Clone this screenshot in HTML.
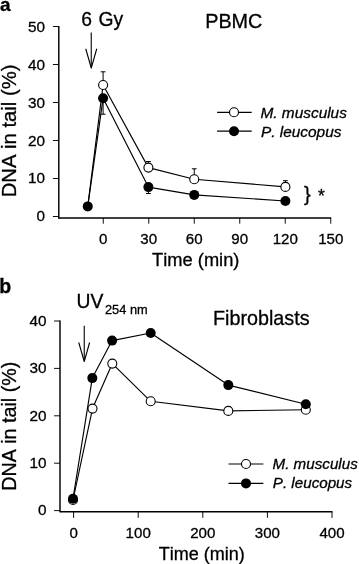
<!DOCTYPE html>
<html lang="en"><head><meta charset="utf-8"><title>DNA in tail</title>
<style>html,body{margin:0;padding:0;background:#fff;}body{width:359px;height:564px;overflow:hidden;}svg{display:block;}text{font-family:"Liberation Sans",Arial,sans-serif;fill:#000;stroke:#000;stroke-width:0.3px;font-kerning:none;}</style>
</head><body>
<svg width="359" height="564" viewBox="0 0 359 564">
<rect width="359" height="564" fill="#fff"/>
<g id="chartA">
<text x="0" y="11.4" font-size="19" text-anchor="start" font-weight="bold">a</text>
<line x1="58.8" y1="26" x2="58.8" y2="218.65" stroke="#000" stroke-width="1.45"/>
<line x1="58.8" y1="218" x2="331.2" y2="218" stroke="#000" stroke-width="1.45"/>
<line x1="52.9" y1="216.5" x2="58.8" y2="216.5" stroke="#000" stroke-width="0.95"/>
<text x="45.1" y="221.3" font-size="15.3" text-anchor="end" >0</text>
<line x1="52.9" y1="178.5" x2="58.8" y2="178.5" stroke="#000" stroke-width="0.95"/>
<text x="45.1" y="183.45" font-size="15.3" text-anchor="end" >10</text>
<line x1="52.9" y1="140.5" x2="58.8" y2="140.5" stroke="#000" stroke-width="0.95"/>
<text x="45.1" y="145.6" font-size="15.3" text-anchor="end" >20</text>
<line x1="52.9" y1="102.5" x2="58.8" y2="102.5" stroke="#000" stroke-width="0.95"/>
<text x="45.1" y="107.75" font-size="15.3" text-anchor="end" >30</text>
<line x1="52.9" y1="64.5" x2="58.8" y2="64.5" stroke="#000" stroke-width="0.95"/>
<text x="45.1" y="69.9" font-size="15.3" text-anchor="end" >40</text>
<line x1="52.9" y1="26.5" x2="58.8" y2="26.5" stroke="#000" stroke-width="0.95"/>
<text x="45.1" y="32.05" font-size="15.3" text-anchor="end" >50</text>
<line x1="103.25" y1="218" x2="103.25" y2="223.7" stroke="#000" stroke-width="0.95"/>
<text x="103.25" y="244.4" font-size="15.1" text-anchor="middle" >0</text>
<line x1="148.75" y1="218" x2="148.75" y2="223.7" stroke="#000" stroke-width="0.95"/>
<text x="148.75" y="244.4" font-size="15.1" text-anchor="middle" >30</text>
<line x1="194.25" y1="218" x2="194.25" y2="223.7" stroke="#000" stroke-width="0.95"/>
<text x="194.25" y="244.4" font-size="15.1" text-anchor="middle" >60</text>
<line x1="239.75" y1="218" x2="239.75" y2="223.7" stroke="#000" stroke-width="0.95"/>
<text x="239.75" y="244.4" font-size="15.1" text-anchor="middle" >90</text>
<line x1="285.25" y1="218" x2="285.25" y2="223.7" stroke="#000" stroke-width="0.95"/>
<text x="285.25" y="244.4" font-size="15.1" text-anchor="middle" >120</text>
<line x1="330.75" y1="218" x2="330.75" y2="223.7" stroke="#000" stroke-width="0.95"/>
<text x="330.75" y="244.4" font-size="15.1" text-anchor="middle" >150</text>
<text x="152.1" y="265.8" font-size="18.3" text-anchor="start" >Time (min)</text>
<text transform="translate(16,197.3) rotate(-90)" font-size="20.25">DNA in tail (%)</text>
<text x="81.3" y="25.8" font-size="19.3" text-anchor="start" >6 <tspan dx="1.2">Gy</tspan></text>
<text x="205.2" y="28" font-size="19.8" text-anchor="start" >PBMC</text>
<line x1="91.25" y1="32.5" x2="91.25" y2="67.5" stroke="#000" stroke-width="1.1"/>
<polyline points="85.75,48.75 91.25,68 96.75,48.75" fill="none" stroke="#000" stroke-width="1.1" stroke-linejoin="round"/>
<line x1="103.1" y1="85" x2="103.1" y2="71.8" stroke="#000" stroke-width="1.0"/>
<line x1="100.7" y1="71.8" x2="105.5" y2="71.8" stroke="#000" stroke-width="1.0"/>
<line x1="103.1" y1="98" x2="103.1" y2="114.2" stroke="#000" stroke-width="1.0"/>
<line x1="100.7" y1="114.2" x2="105.5" y2="114.2" stroke="#000" stroke-width="1.0"/>
<line x1="148.4" y1="167.6" x2="148.4" y2="161.5" stroke="#000" stroke-width="1.0"/>
<line x1="146" y1="161.5" x2="150.8" y2="161.5" stroke="#000" stroke-width="1.0"/>
<line x1="148.4" y1="187.1" x2="148.4" y2="193.5" stroke="#000" stroke-width="1.0"/>
<line x1="146" y1="193.5" x2="150.8" y2="193.5" stroke="#000" stroke-width="1.0"/>
<line x1="194.25" y1="179.3" x2="194.25" y2="168.8" stroke="#000" stroke-width="1.0"/>
<line x1="191.85" y1="168.8" x2="196.65" y2="168.8" stroke="#000" stroke-width="1.0"/>
<line x1="285.4" y1="186.9" x2="285.4" y2="180.7" stroke="#000" stroke-width="1.0"/>
<line x1="283" y1="180.7" x2="287.8" y2="180.7" stroke="#000" stroke-width="1.0"/>
<polyline points="87.75,206.4 103.1,85 148.4,167.6 194.25,179.3 285.4,186.9" fill="none" stroke="#000" stroke-width="1.15" stroke-linejoin="round"/>
<polyline points="87.75,206.4 103.1,98.2 148.4,187.1 194.25,194.9 285.4,201" fill="none" stroke="#000" stroke-width="1.15" stroke-linejoin="round"/>
<circle cx="103.1" cy="85" r="4.5" fill="#fff" stroke="#000" stroke-width="1.1"/>
<circle cx="148.4" cy="167.6" r="4.5" fill="#fff" stroke="#000" stroke-width="1.1"/>
<circle cx="194.25" cy="179.3" r="4.5" fill="#fff" stroke="#000" stroke-width="1.1"/>
<circle cx="285.4" cy="186.9" r="4.5" fill="#fff" stroke="#000" stroke-width="1.1"/>
<circle cx="87.75" cy="206.4" r="5" fill="#000"/>
<circle cx="103.1" cy="98.2" r="5" fill="#000"/>
<circle cx="148.4" cy="187.1" r="5" fill="#000"/>
<circle cx="194.25" cy="194.9" r="5" fill="#000"/>
<circle cx="285.4" cy="201" r="5" fill="#000"/>
<line x1="217.1" y1="112.3" x2="251.7" y2="112.3" stroke="#000" stroke-width="1.2"/>
<circle cx="234" cy="112.3" r="4.5" fill="#fff" stroke="#000" stroke-width="1.1"/>
<line x1="217.1" y1="131.2" x2="251.7" y2="131.2" stroke="#000" stroke-width="1.2"/>
<circle cx="234" cy="131.2" r="5" fill="#000"/>
<text x="260.5" y="117.5" font-size="15.4" text-anchor="start" font-style="italic">M. musculus</text>
<text x="261" y="136.5" font-size="15.4" text-anchor="start" font-style="italic">P. leucopus</text>
<text x="303.9" y="200.5" font-size="20" text-anchor="start" >}</text>
<text x="317.9" y="202.4" font-size="17.5" text-anchor="start" >*</text>
</g>
<g id="chartB">
<text x="-0.8" y="292.5" font-size="19.5" text-anchor="start" font-weight="bold">b</text>
<line x1="60" y1="320.5" x2="60" y2="512.35" stroke="#000" stroke-width="1.45"/>
<line x1="60" y1="511.7" x2="332.45" y2="511.7" stroke="#000" stroke-width="1.45"/>
<line x1="54.1" y1="510.6" x2="60" y2="510.6" stroke="#000" stroke-width="0.95"/>
<text x="46.4" y="515.4" font-size="15.3" text-anchor="end" >0</text>
<line x1="54.1" y1="463.2" x2="60" y2="463.2" stroke="#000" stroke-width="0.95"/>
<text x="46.4" y="468" font-size="15.3" text-anchor="end" >10</text>
<line x1="54.1" y1="415.8" x2="60" y2="415.8" stroke="#000" stroke-width="0.95"/>
<text x="46.4" y="420.6" font-size="15.3" text-anchor="end" >20</text>
<line x1="54.1" y1="368.4" x2="60" y2="368.4" stroke="#000" stroke-width="0.95"/>
<text x="46.4" y="373.2" font-size="15.3" text-anchor="end" >30</text>
<line x1="54.1" y1="321" x2="60" y2="321" stroke="#000" stroke-width="0.95"/>
<text x="46.4" y="325.8" font-size="15.3" text-anchor="end" >40</text>
<line x1="73.6" y1="511.7" x2="73.6" y2="517.9" stroke="#000" stroke-width="0.95"/>
<text x="73.6" y="538.3" font-size="15.1" text-anchor="middle" >0</text>
<line x1="138.2" y1="511.7" x2="138.2" y2="517.9" stroke="#000" stroke-width="0.95"/>
<text x="138.2" y="538.3" font-size="15.1" text-anchor="middle" >100</text>
<line x1="202.8" y1="511.7" x2="202.8" y2="517.9" stroke="#000" stroke-width="0.95"/>
<text x="202.8" y="538.3" font-size="15.1" text-anchor="middle" >200</text>
<line x1="267.4" y1="511.7" x2="267.4" y2="517.9" stroke="#000" stroke-width="0.95"/>
<text x="267.4" y="538.3" font-size="15.1" text-anchor="middle" >300</text>
<line x1="332" y1="511.7" x2="332" y2="517.9" stroke="#000" stroke-width="0.95"/>
<text x="332" y="538.3" font-size="15.1" text-anchor="middle" >400</text>
<text x="158.7" y="559.7" font-size="18.0" text-anchor="start" >Time (min)</text>
<text transform="translate(16.3,490.8) rotate(-90)" font-size="19.7">DNA in tail (%)</text>
<text x="76.5" y="308.1" font-size="19.3">UV<tspan font-size="12.8" dy="6.1" dx="1.7">254 nm</tspan></text>
<text x="213" y="325" font-size="19.75" text-anchor="start" >Fibroblasts</text>
<line x1="84.25" y1="325.75" x2="84.25" y2="361" stroke="#000" stroke-width="1.1"/>
<polyline points="78.75,342.5 84.25,361.5 89.6,342.5" fill="none" stroke="#000" stroke-width="1.1" stroke-linejoin="round"/>
<polyline points="73,500 92.5,408.6 112.3,363.6 150.7,401.3 228.3,410.9 305.8,409.8" fill="none" stroke="#000" stroke-width="1.15" stroke-linejoin="round"/>
<polyline points="73,498.75 92.3,378.1 112.1,340.6 150.7,333 228.3,385.1 305.8,404.3" fill="none" stroke="#000" stroke-width="1.15" stroke-linejoin="round"/>
<circle cx="73" cy="500" r="4.5" fill="#fff" stroke="#000" stroke-width="1.1"/>
<circle cx="92.5" cy="408.6" r="4.5" fill="#fff" stroke="#000" stroke-width="1.1"/>
<circle cx="112.3" cy="363.6" r="4.5" fill="#fff" stroke="#000" stroke-width="1.1"/>
<circle cx="150.7" cy="401.3" r="4.5" fill="#fff" stroke="#000" stroke-width="1.1"/>
<circle cx="228.3" cy="410.9" r="4.5" fill="#fff" stroke="#000" stroke-width="1.1"/>
<circle cx="305.8" cy="409.8" r="4.5" fill="#fff" stroke="#000" stroke-width="1.1"/>
<circle cx="73" cy="498.75" r="5" fill="#000"/>
<circle cx="92.3" cy="378.1" r="5" fill="#000"/>
<circle cx="112.1" cy="340.6" r="5" fill="#000"/>
<circle cx="150.7" cy="333" r="5" fill="#000"/>
<circle cx="228.3" cy="385.1" r="5" fill="#000"/>
<circle cx="305.8" cy="404.3" r="5" fill="#000"/>
<line x1="228.5" y1="464" x2="263.4" y2="464" stroke="#000" stroke-width="1.2"/>
<circle cx="246" cy="464" r="4.5" fill="#fff" stroke="#000" stroke-width="1.1"/>
<line x1="228.5" y1="483.4" x2="263.4" y2="483.4" stroke="#000" stroke-width="1.2"/>
<circle cx="246" cy="483.4" r="5" fill="#000"/>
<text x="272.5" y="469.2" font-size="15.2" text-anchor="start" font-style="italic">M. musculus</text>
<text x="272.8" y="488.3" font-size="15.2" text-anchor="start" font-style="italic">P. leucopus</text>
</g>
</svg>
</body></html>
